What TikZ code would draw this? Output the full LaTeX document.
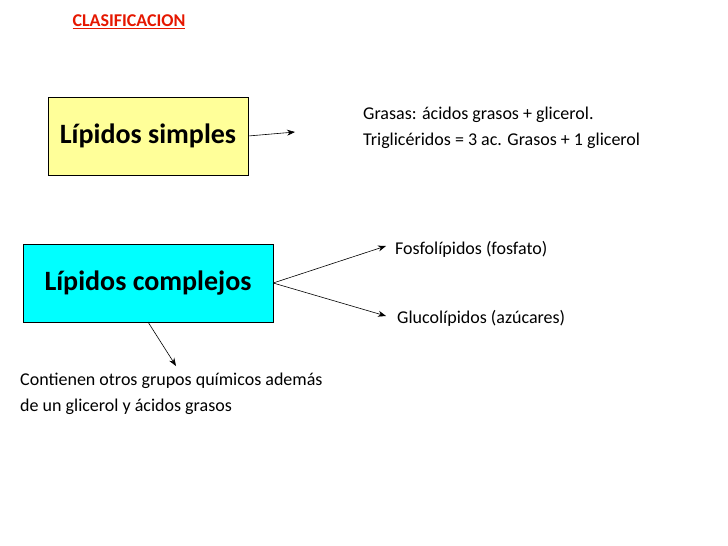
\documentclass[tikz,border=0pt]{standalone}
\usepackage{fontspec}
\usetikzlibrary{arrows.meta}
\setmainfont{Carlito}
\begin{document}
\begin{tikzpicture}[x=1pt,y=-1pt,
  box/.style={draw=black,minimum width=200pt,minimum height=78pt,font=\fontsize{28}{32}\selectfont\bfseries},
  txt/.style={anchor=west,font=\fontsize{18}{26}\selectfont,align=left,inner sep=0pt},
  arr/.style={-{Stealth[length=8pt,width=6pt]},semithick}]
\useasboundingbox (0,0) rectangle (728,546);
\node[anchor=center,text=red!80!orange!90!black,font=\fontsize{18}{20}\selectfont\bfseries] (t) at (129,22) {\underline{CLASIFICACION}};
\node[box,fill={rgb,255:red,255;green,255;blue,153}] (s) at (148,136) {Lípidos simples};
\node[box,minimum width=250pt,fill={rgb,255:red,0;green,255;blue,255}] (c) at (148,283) {Lípidos complejos};
\coordinate (s1) at (295,132);
\draw[arr] (s.east) -- (s1);
\node[txt] (g) at (363,128) {Grasas: ácidos grasos + glicerol.\\Triglicéridos = 3 ac. Grasos + 1 glicerol};
\node[txt] (f) at (395,249) {Fosfolípidos (fosfato)};
\node[txt] (u) at (397,318) {Glucolípidos (azúcares)};
\coordinate (f1) at (386,246);
\coordinate (u1) at (386,316);
\draw[arr] (c.east) -- (f1);
\draw[arr] (c.east) -- (u1);
\coordinate (c1) at (148,322);
\coordinate (c2) at (176,366);
\draw[arr] (c1) -- (c2);
\node[txt] (o) at (20,394) {Contienen otros grupos químicos además\\de un glicerol y ácidos grasos};
\end{tikzpicture}
\end{document}
